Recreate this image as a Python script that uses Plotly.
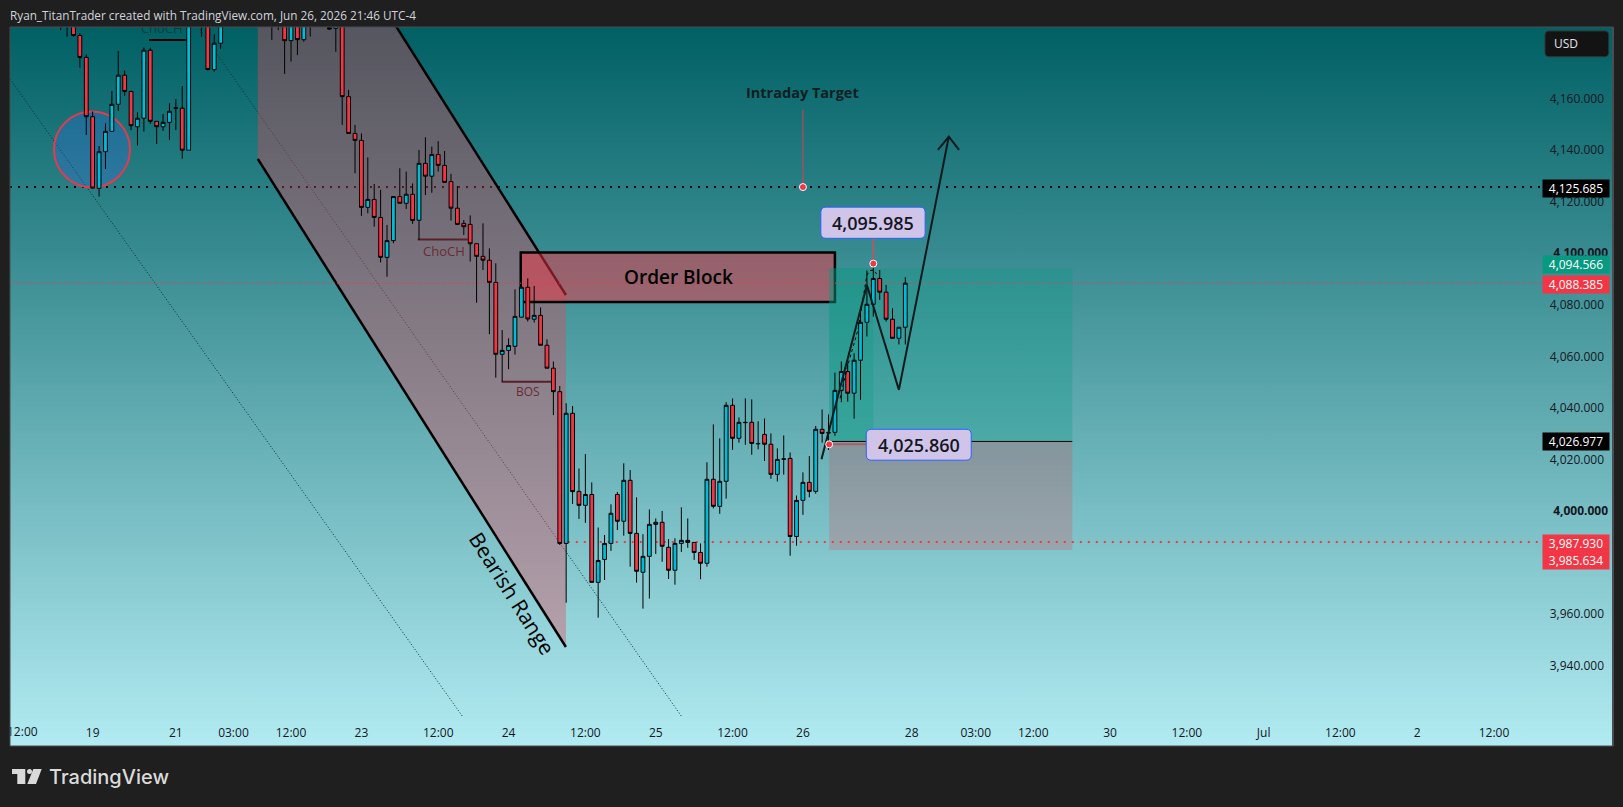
import base64

import plotly.graph_objects as go

# hourly bars, numbered from the first one visible. bars that sit wholly above the chart are left out
bar_index = list(range(0, 21)) + list(range(22, 26)) + list(range(33, 40)) + list(range(42, 133))
opens = [
    4198, 4192, 4190, 4184.5, 4176, 4153, 4125.2, 4139.4, 4147.3, 4157.8,
    4169.1, 4162.8, 4149.1, 4152.4, 4178.8, 4151.2, 4149.1, 4150.8, 4156.5, 4156.3,
    4140, 4198, 4192, 4171.3, 4181.5,
    4195, 4192, 4194, 4182.5, 4192, 4182.9, 4192,
    4187.6, 4187.3, 4192, 4160.8, 4146.5, 4143.8, 4117.8, 4120.9,
    4113.9, 4098.4, 4104.9, 4122, 4119.4, 4122.9, 4112.8, 4134.9, 4129.9, 4138.3,
    4134.1, 4127.8, 4117.5, 4111.6, 4111.2, 4103.7, 4098.8, 4097.3, 4088.7, 4060.8,
    4062.3, 4063.9, 4075.2, 4086.8, 4074.4, 4075.9, 4064.3, 4055.4, 4046.3, 3987.4,
    4037.9, 4007.6, 4002.2, 4006.4, 3972.3, 3981.2, 3987.4, 4006.4, 3996, 4011.9,
    3991.3, 3976.2, 3982.4, 3994.8, 3995.6, 3985.9, 3977, 3987.4, 3988.6, 3987.8,
    3983.9, 3979.7, 4012.3, 4001.8, 4011.5, 4041, 4028.2, 4034.4, 4034.4, 4026.2,
    4029.7, 4025.9, 4014.2, 4020.2, 4020.4, 3990.1, 4004.1, 4011.1, 4007.6, 4031.7,
    4030.4, 4030.5, 4046.8, 4054.1, 4045.7, 4058.5, 4073.2, 4080.2, 4090.2, 4084.9,
    4074.4, 4067, 4071.3,
]
highs = [
    4200, 4196, 4194, 4185.4, 4177.2, 4155, 4141.6, 4150.4, 4163, 4178.5,
    4170.9, 4162.8, 4154.7, 4179.8, 4179.8, 4151.2, 4154, 4158.2, 4159.9, 4164.9,
    4194, 4200, 4196, 4185, 4195,
    4198, 4198, 4198, 4194, 4194, 4194, 4195,
    4192, 4192, 4194, 4163.4, 4149.8, 4146.5, 4137.2, 4126.9,
    4124.6, 4111, 4122, 4133, 4131.7, 4127.1, 4140.1, 4145, 4141.4, 4143.5,
    4139.7, 4130.8, 4126.1, 4112.9, 4114.7, 4103.7, 4111.6, 4101.9, 4096.1, 4070.2,
    4067, 4086, 4086.8, 4090.3, 4087.3, 4079, 4066.6, 4058, 4048.5, 4041.8,
    4040.7, 4016.5, 4022.1, 4011.1, 3993.6, 3990.7, 4002.6, 4007.4, 4018.5, 4015.9,
    4005.3, 3991, 4000.6, 3997.1, 4000, 3989.1, 3989.4, 4001.4, 3997.1, 3987.8,
    3987.4, 4018.9, 4033.6, 4028.2, 4042.2, 4043.7, 4036.3, 4043.7, 4043.3, 4034.8,
    4035.9, 4030.1, 4024.3, 4029.3, 4022.7, 4006, 4015, 4021.3, 4033, 4039.4,
    4037.5, 4053.7, 4058, 4057.3, 4061.2, 4078, 4093.3, 4095.985, 4093.5, 4087.7,
    4078.7, 4071.3, 4090.7,
]
lows = [
    4186.6, 4184.1, 4184, 4172, 4145.9, 4125.2, 4122, 4132.7, 4147.3, 4155.2,
    4161, 4147.8, 4141.8, 4147.2, 4150.2, 4142.4, 4147.5, 4144, 4147.8, 4136.7,
    4140, 4184, 4170.9, 4170.5, 4179.3,
    4182.8, 4186.6, 4169.6, 4174.4, 4176.9, 4182.1, 4184.1,
    4186.6, 4178.2, 4149.8, 4146.5, 4131, 4114.5, 4115.5, 4110.3,
    4096.4, 4090.9, 4103.9, 4119.4, 4117.2, 4111.4, 4105.2, 4122.6, 4123.5, 4131.7,
    4127.5, 4112.7, 4111.2, 4107.1, 4096.8, 4080.8, 4093.5, 4068.6, 4051.7, 4050.2,
    4055, 4060.7, 4075.2, 4073.5, 4073.1, 4064.3, 4055.4, 4037.2, 3986.8, 3964.4,
    4002.7, 3996.9, 3995.4, 3972.3, 3958.6, 3973.2, 3984.5, 3992.6, 3990.4, 3978.4,
    3972.2, 3962.1, 3966, 3983.3, 3980.3, 3973.6, 3971.4, 3984.1, 3985.7, 3981,
    3973.5, 3978.4, 4001, 3998.9, 4004.8, 4023.7, 4026.5, 4025.7, 4021.8, 4023.9,
    4019.4, 4012.5, 4011.4, 4014.1, 3982.6, 3986.5, 3998.5, 4005.3, 4006.7, 4026.5,
    4023.7, 4029.2, 4042.2, 4042.4, 4035.8, 4043.1, 4067.7, 4075.4, 4081.9, 4073.5,
    4067, 4064.6, 4064.6,
]
closes = [
    4192, 4190, 4184.5, 4176, 4153, 4125.3, 4139.4, 4147.3, 4157.8, 4169.1,
    4162.8, 4149.5, 4152.4, 4178.8, 4151.2, 4149.1, 4150.8, 4155.1, 4156.3, 4140,
    4192, 4194, 4171.3, 4181.5, 4192,
    4192, 4196, 4182.5, 4192, 4182.9, 4192, 4188,
    4187, 4190, 4160.8, 4146.5, 4143.8, 4117.8, 4120.9, 4113.9,
    4098.4, 4104.9, 4122, 4119.4, 4122.9, 4112.7, 4134.9, 4129.9, 4138.3, 4134.1,
    4127.5, 4117.5, 4111.2, 4110.3, 4103.7, 4098.8, 4097.3, 4088.7, 4060.8, 4062.3,
    4064.2, 4075.5, 4086.8, 4074.5, 4075.9, 4064.3, 4055.4, 4046.3, 3987.4, 4037.9,
    4007.5, 4002.2, 4006.4, 3972.3, 3980.8, 3987.4, 3999.1, 3996, 4011.9, 3991.3,
    3976.6, 3982.4, 3994.8, 3995.6, 3986.3, 3977, 3987.4, 3988.6, 3987.8, 3983.9,
    3979.7, 4012.3, 4001.8, 4011.5, 4041, 4028.2, 4034.4, 4034.3, 4026.2, 4026.1,
    4025.9, 4014.2, 4020, 4020.1, 3990.1, 4004.1, 4011.1, 4007.6, 4031.7, 4030.1,
    4030.3, 4046.8, 4054.1, 4045.7, 4058.5, 4073.2, 4080.2, 4090.2, 4084.9, 4074.4,
    4067, 4071.3, 4088.385,
]
assert len(bar_index) == len(opens) == len(highs) == len(lows) == len(closes)

# axes
x_range = [-7.92, 242.6]
y_range = [3908.8, 4187.8]
x_ticks = [5, 18, 27, 36, 47, 59, 70, 82, 93, 105, 116, 133, 143, 152, 164, 176, 188, 200, 212, 224]
x_labels = ['19', '21', '03:00', '12:00', '23', '12:00', '24', '12:00', '25', '12:00', '26',
            '28', '03:00', '12:00', '30', '12:00', 'Jul', '12:00', '2', '12:00']
y_ticks = [3940, 3960, 4020, 4040, 4060, 4080, 4120, 4140, 4160]
y_ticks_bold = [4000, 4100]

# price levels
target_level = 4125.685
last_level = 4088.385
stop_level = 3987.93
entry_level = 4026.977
profit_top = 4094.2
stop_bottom = 3984.9
high_callout = 4095.985
low_callout = 4025.86

# drawings, in bar number and price
channel_x = [30.8, 78.96, 78.96, 30.8]
channel_y = [4273, 4083.8, 3947.2, 4136.6]
diag_a_x, diag_a_y = [-7.92, 62.85], [4167.6, 3920.1]
diag_b_x, diag_b_y = [21.77, 97.08], [4186.7, 3920.1]
block_x, block_y = [71.9, 121], [4081.1, 4100.3]
trade_x = [120.1, 127, 158.1]
circle_x, circle_y = [-1.05, 10.83], [4125.6, 4155]
zigzag_x = [118.9, 126, 131, 138.8]
zigzag_y = [4020.1, 4087.7, 4047, 4145.3]
head_x = [137.1, 138.8, 140.4]
head_y = [4140.1, 4145.3, 4140.1]
curve_x = [121.8, 123.1, 124.6, 126, 126.5, 127.1, 127.5]
curve_y = [4043.7, 4057.3, 4070.2, 4091.6, 4093.3, 4093.5, 4092]
axis_label_x = 231.5

# (price label text, fill, pixel nudge because the labels push each other apart)
price_tags = [
    (4125.685, '#000000', -1),
    (4094.566, '#089981', 3),
    (4088.385, '#f23645', -1),
    (4026.977, '#000000', 0),
    (3987.930, '#f23645', -1),
    (3985.634, '#f23645', -12.5),
]

FONT = 'Open Sans'
INK = '#131722'
W, H = 1623, 807
L, R, T, B = 10, 1613, 27, 746


def px(x):
    return (x - L) / (R - L)


def py(y):
    return (B - y) / (B - T)


def rounded(x0, y0, x1, y1, rx, ry):
    return (f'M {x0 + rx} {y0} L {x1 - rx} {y0} Q {x1} {y0} {x1} {y0 + ry} '
            f'L {x1} {y1 - ry} Q {x1} {y1} {x1 - rx} {y1} L {x0 + rx} {y1} '
            f'Q {x0} {y1} {x0} {y1 - ry} L {x0} {y0 + ry} Q {x0} {y0} {x0 + rx} {y0} Z')


def hline(y, x0, x1, color, width, dash='solid'):
    return dict(type='line', xref='x', yref='y', x0=x0, x1=x1, y0=y, y1=y, layer='below',
                line=dict(color=color, width=width, dash=dash))


svg = (f'<svg xmlns="http://www.w3.org/2000/svg" width="{R - L}" height="{B - T}">'
       '<defs><linearGradient id="g" x1="0" y1="0" x2="0" y2="1">'
       '<stop offset="0" stop-color="#006064"/><stop offset="1" stop-color="#b2ebf2"/>'
       '</linearGradient></defs>'
       f'<rect width="{R - L}" height="{B - T}" fill="url(#g)"/></svg>')
background = 'data:image/svg+xml;base64,' + base64.b64encode(svg.encode()).decode()

fig = go.Figure()
fig.add_trace(go.Candlestick(
    x=bar_index, open=opens, high=highs, low=lows, close=closes,
    increasing=dict(fillcolor='#00bcd4', line=dict(color='#000000', width=1)),
    decreasing=dict(fillcolor='#f23645', line=dict(color='#000000', width=1)),
    whiskerwidth=0, hoverinfo='skip', showlegend=False))

# hand drawn path and the dashed leg under it
fig.add_trace(go.Scatter(x=curve_x, y=curve_y, mode='lines', hoverinfo='skip', showlegend=False,
                         line=dict(color='#000000', width=1, dash='3px,3px')))
fig.add_trace(go.Scatter(x=zigzag_x, y=zigzag_y, mode='lines', hoverinfo='skip', showlegend=False,
                         line=dict(color='#0b1a1c', width=2)))
fig.add_trace(go.Scatter(x=head_x, y=head_y, mode='lines', hoverinfo='skip', showlegend=False,
                         line=dict(color='#0b1a1c', width=2)))

# leader lines and their dots
fig.add_trace(go.Scatter(x=[116, 116], y=[target_level, 4155.6], mode='lines', hoverinfo='skip',
                         showlegend=False, line=dict(color='#d8404f', width=1)))
fig.add_trace(go.Scatter(x=[127, 127], y=[high_callout, 4106], mode='lines', hoverinfo='skip',
                         showlegend=False, line=dict(color='#b05a68', width=2)))
fig.add_trace(go.Scatter(x=[120.1, 126], y=[low_callout, low_callout], mode='lines', hoverinfo='skip',
                         showlegend=False, line=dict(color='#b05a68', width=2)))
fig.add_trace(go.Scatter(x=[116, 127, 120.1], y=[target_level, high_callout, low_callout], mode='markers',
                         hoverinfo='skip', showlegend=False,
                         marker=dict(size=7, color='#f23645', line=dict(color='#ffffff', width=1))))

# both of these are cut by the chart edge, so they have to be clipped traces
fig.add_trace(go.Scatter(x=[15.8], y=[4186.6], mode='text', text=['ChoCH'], hoverinfo='skip', showlegend=False,
                         textfont=dict(family=FONT, size=13, color='#0a3b3c')))
fig.add_trace(go.Scatter(x=[-6], y=[3914], mode='text', text=['12:00'], hoverinfo='skip', showlegend=False,
                         textfont=dict(family=FONT, size=12, color=INK)))
# keeps the second axis alive for the heavier round number labels
fig.add_trace(go.Scatter(x=[0, 0], y=y_ticks_bold, yaxis='y2', mode='markers', hoverinfo='skip',
                         showlegend=False, marker=dict(opacity=0)))

shapes = [
    hline(target_level, x_range[0], axis_label_x, '#000000', 2, '2px,6px'),
    dict(type='line', xref='x', yref='y', layer='below', x0=diag_a_x[0], x1=diag_a_x[1], y0=diag_a_y[0], y1=diag_a_y[1],
         line=dict(color='#0b2b2e', width=1, dash='1px,2px')),
    dict(type='line', xref='x', yref='y', layer='below', x0=diag_b_x[0], x1=diag_b_x[1], y0=diag_b_y[0], y1=diag_b_y[1],
         line=dict(color='#0b2b2e', width=1, dash='1px,2px')),
    # bearish range channel
    dict(type='path', xref='x', yref='y', layer='below', line=dict(width=0), fillcolor='rgba(225,70,90,0.38)',
         path=f'M {channel_x[0]} {channel_y[0]} L {channel_x[1]} {channel_y[1]} L {channel_x[2]} {channel_y[2]} '
              f'L {channel_x[3]} {channel_y[3]} Z'),
    dict(type='line', xref='x', yref='y', layer='below', x0=channel_x[0], x1=channel_x[1], y0=channel_y[0], y1=channel_y[1],
         line=dict(color='#000000', width=2.5)),
    dict(type='line', xref='x', yref='y', layer='below', x0=channel_x[3], x1=channel_x[2], y0=channel_y[3], y1=channel_y[2],
         line=dict(color='#000000', width=2.5)),
    # order block
    dict(type='rect', xref='x', yref='y', layer='below', x0=block_x[0], x1=block_x[1], y0=block_y[0], y1=block_y[1],
         fillcolor='rgba(242,54,69,0.5)', line=dict(color='#000000', width=2.5)),
    # long position tool
    dict(type='rect', xref='x', yref='y', layer='below', x0=trade_x[0], x1=trade_x[2], y0=entry_level, y1=profit_top,
         fillcolor='rgba(8,153,129,0.28)', line=dict(width=0)),
    dict(type='rect', xref='x', yref='y', layer='below', x0=trade_x[0], x1=trade_x[1], y0=entry_level, y1=profit_top,
         fillcolor='rgba(8,153,129,0.28)', line=dict(width=0)),
    dict(type='rect', xref='x', yref='y', layer='below', x0=trade_x[0], x1=trade_x[2], y0=stop_bottom, y1=entry_level,
         fillcolor='rgba(242,54,69,0.22)', line=dict(width=0)),
    hline(entry_level, trade_x[0], trade_x[2], '#000000', 1),
    hline(last_level, x_range[0], axis_label_x, '#f23645', 1, '1px,2px'),
    hline(stop_level, 78, axis_label_x, '#f23645', 2, '2px,6px'),
    # blue circle
    dict(type='circle', xref='x', yref='y', layer='below', x0=circle_x[0], x1=circle_x[1], y0=circle_y[0], y1=circle_y[1],
         fillcolor='rgba(60,105,235,0.28)', line=dict(color='#e8394d', width=2)),
    # structure marks
    hline(4182.8, 13.8, 19.7, '#000000', 2),
    hline(4105.3, 55.8, 63.6, '#5a2028', 2),
    hline(4050.1, 68.9, 76.7, '#5a2028', 2),
    # callout boxes
    dict(type='path', xref='x', yref='y', layer='above', fillcolor='#d1c4e9', line=dict(color='#2962ff', width=1),
         path=rounded(118.8, 4105.8, 135.1, 4117.9, 0.8, 2)),
    dict(type='path', xref='x', yref='y', layer='above', fillcolor='#d1c4e9', line=dict(color='#2962ff', width=1),
         path=rounded(125.9, 4019.7, 142.3, 4031.7, 0.8, 2)),
    # chart frame
    dict(type='rect', xref='paper', yref='paper', layer='above', x0=0, x1=1, y0=0, y1=1,
         line=dict(color='#4a4d50', width=1)),
    dict(type='line', xref='paper', yref='paper', layer='above', x0=1, x1=1, y0=0, y1=1,
         line=dict(color='#4a4d50', width=2)),
    # currency button
    dict(type='path', xref='paper', yref='paper', layer='above', fillcolor='#131313', line=dict(color='#333333', width=1),
         path=rounded(px(1545), py(56.7), px(1608.7), py(31), 0.0025, 0.006)),
    # logo
    dict(type='path', xref='paper', yref='paper', layer='above', fillcolor='#d9d9d9', line=dict(width=0),
         path=f'M {px(12)} {py(769)} L {px(25.3)} {py(769)} L {px(25.3)} {py(784)} L {px(17.3)} {py(784)} '
              f'L {px(17.3)} {py(774)} L {px(12)} {py(774)} Z'),
    dict(type='path', xref='paper', yref='paper', layer='above', fillcolor='#d9d9d9', line=dict(width=0),
         path=f'M {px(33.3)} {py(769)} L {px(41.7)} {py(769)} L {px(36)} {py(784)} L {px(27.3)} {py(784)} Z'),
    dict(type='circle', xref='paper', yref='paper', layer='above', fillcolor='#d9d9d9', line=dict(width=0),
         x0=px(27), x1=px(32), y0=py(774), y1=py(769)),
]

annotations = [
    dict(xref='paper', yref='paper', x=0, y=py(15), xanchor='left', yanchor='middle', showarrow=False, xshift=-2,
         text='Ryan_TitanTrader created with TradingView.com, Jun 26, 2026 21:46 UTC-4',
         font=dict(family=FONT, size=11.75, color='#d1d4dc')),
    dict(xref='paper', yref='paper', x=px(47), y=py(777), xanchor='left', yanchor='middle', showarrow=False,
         text='TradingView', font=dict(family='Inter', size=20, color='#dbdbdb', weight=500)),
    dict(xref='paper', yref='paper', x=px(1552), y=py(44), xanchor='left', yanchor='middle', showarrow=False,
         text='USD', font=dict(family=FONT, size=12, color='#e0e3eb')),
    dict(x=116, y=4162.2, showarrow=False, text='<b>Intraday Target</b>',
         font=dict(family=FONT, size=14.5, color='#0c2022')),
    dict(x=127, y=4111.8, showarrow=False, text='4,095.985', font=dict(family=FONT, size=18, color='#131722', weight=600)),
    dict(x=134.1, y=4025.7, showarrow=False, text='4,025.860', font=dict(family=FONT, size=18, color='#131722', weight=600)),
    dict(x=96.5, y=4090.7, showarrow=False, text='Order Block', font=dict(family=FONT, size=19, color='#000000', weight=600)),
    dict(x=59.9, y=4100.9, showarrow=False, text='ChoCH', font=dict(family=FONT, size=13, color='#6b2a33')),
    dict(x=73, y=4046.3, showarrow=False, text='BOS', font=dict(family=FONT, size=12, color='#6b2a33')),
    dict(x=70.5, y=3968, showarrow=False, text='Bearish Range', textangle=57.7,
         font=dict(family=FONT, size=21, color='#000000', weight=500)),
]
for level, color, nudge in price_tags:
    annotations.append(dict(xref='paper', yref='y', x=px(1542), y=level, xanchor='left', yanchor='middle', yshift=nudge,
                            showarrow=False, text=f'{level:,.3f}', width=66, height=17, bgcolor=color, borderpad=0,
                            font=dict(family=FONT, size=12, color='#ffffff')))

fig.update_layout(
    width=W, height=H, autosize=False,
    margin=dict(l=L, r=W - R, t=T, b=H - B, pad=0),
    paper_bgcolor='#1f1f1f', plot_bgcolor='rgba(0,0,0,0)',
    hovermode=False, showlegend=False, boxgap=0.15,
    images=[dict(source=background, xref='paper', yref='paper', x=0, y=1, sizex=1, sizey=1,
                 sizing='stretch', layer='below', xanchor='left', yanchor='top')],
    shapes=shapes, annotations=annotations,
    xaxis=dict(range=x_range, tickmode='array', tickvals=x_ticks, ticktext=x_labels, rangeslider=dict(visible=False),
               showgrid=False, zeroline=False, showline=False, ticks='', ticklabelposition='inside',
               ticklabelstandoff=4, tickfont=dict(family=FONT, size=12, color=INK)),
    yaxis=dict(range=y_range, side='right', tickmode='array', tickvals=y_ticks, tickformat=',.3f',
               showgrid=False, zeroline=False, showline=False, ticks='', ticklabelposition='inside',
               ticklabelstandoff=6, tickfont=dict(family=FONT, size=12, color=INK)),
    yaxis2=dict(range=y_range, side='right', overlaying='y', tickmode='array', tickvals=y_ticks_bold,
                ticktext=[f'<b>{v:,.3f}</b>' for v in y_ticks_bold],
                showgrid=False, zeroline=False, showline=False, ticks='', ticklabelposition='inside',
                ticklabelstandoff=2, tickfont=dict(family=FONT, size=12, color=INK)),
)

fig.write_html('out.html', config={'displayModeBar': False},
               post_script="document.body.style.margin='0';document.body.style.overflow='hidden';")
